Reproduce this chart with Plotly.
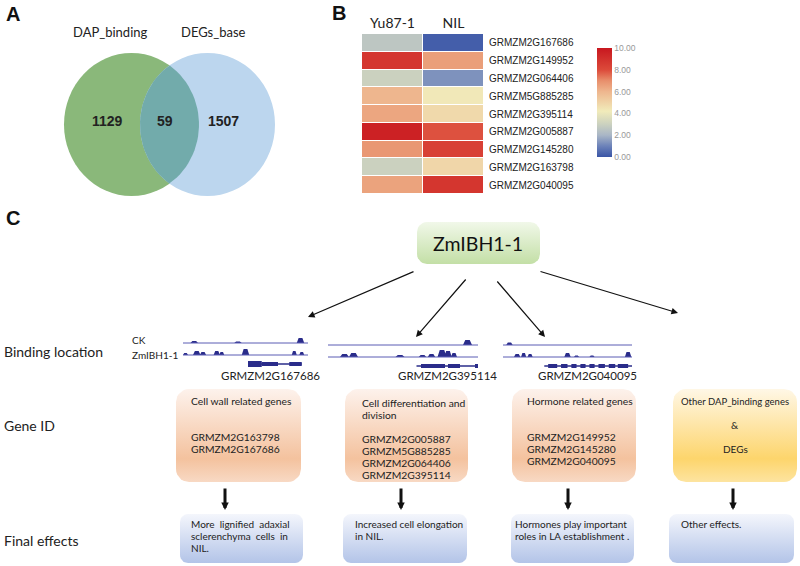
import numpy as np
import plotly.graph_objects as go

# Panel A: Venn counts
venn_sets = ["DAP_binding", "DEGs_base"]
venn_counts = [1129, 59, 1507]

# Panel B: heatmap
genes = ["GRMZM2G167686", "GRMZM2G149952", "GRMZM2G064406", "GRMZM5G885285",
         "GRMZM2G395114", "GRMZM2G005887", "GRMZM2G145280", "GRMZM2G163798",
         "GRMZM2G040095"]
lines_ = ["Yu87-1", "NIL"]
yu87 = [2.6, 8.8, 3.0, 6.0, 6.4, 9.6, 6.8, 3.0, 6.5]
nil = [0.2, 6.6, 1.3, 4.3, 4.8, 7.9, 8.4, 4.9, 8.8]
cb_ticks = [0, 2, 4, 6, 8, 10]

# Panel C: binding tracks (peak centre, width, height) on a 0-1 genomic window
track_genes = ["GRMZM2G167686", "GRMZM2G395114", "GRMZM2G040095"]
ck_peaks = [
    [(0.09, 0.06, 2), (0.44, 0.06, 1.5), (0.94, 0.06, 5)],
    [(0.93, 0.06, 5)],
    [(0.05, 0.05, 2.5)],
]
ibh_peaks = [
    [(0.02, 0.04, 2), (0.11, 0.06, 4), (0.16, 0.05, 3), (0.27, 0.05, 4), (0.31, 0.04, 3),
     (0.5, 0.06, 6), (0.89, 0.04, 4), (0.95, 0.04, 3)],
    [(0.11, 0.06, 3), (0.17, 0.06, 4), (0.48, 0.06, 2), (0.63, 0.05, 2), (0.69, 0.05, 3),
     (0.76, 0.06, 7), (0.8, 0.05, 6), (0.84, 0.04, 4)],
    [(0.11, 0.05, 3), (0.16, 0.04, 4), (0.21, 0.04, 3), (0.5, 0.05, 4), (0.57, 0.04, 1.5),
     (0.69, 0.04, 1.5), (0.97, 0.05, 5)],
]
# gene models: (start, end) of transcript, exons (start, end, half-height)
gene_span = [(0.52, 0.95), (0.59, 1.0), (0.32, 1.0)]
gene_exons = [
    [(0.52, 0.63, 3), (0.63, 0.76, 2), (0.85, 0.95, 2)],
    [(0.62, 0.7, 2), (0.7, 0.78, 2), (0.8, 0.88, 2), (0.98, 1.0, 2)],
    [(0.35, 0.42, 2), (0.45, 0.5, 2), (0.53, 0.57, 2), (0.6, 0.64, 2), (0.67, 0.71, 2),
     (0.74, 0.79, 2), (0.82, 0.87, 2), (0.89, 0.97, 2)],
]

gene_groups = [
    ["Cell wall related genes", "", "", "GRMZM2G163798", "GRMZM2G167686"],
    ["Cell differentiation and", "division", "", "GRMZM2G005887", "GRMZM5G885285",
     "GRMZM2G064406", "GRMZM2G395114"],
    ["Hormone related genes", "", "", "GRMZM2G149952", "GRMZM2G145280", "GRMZM2G040095"],
]
effects = [
    ["More  lignified  adaxial", "sclerenchyma  cells  in", "NIL."],
    ["Increased cell elongation", "in NIL."],
    ["Hormones play important", "roles in LA establishment ."],
    ["Other effects."],
]

W, H = 800, 566
FONT = "Lato"
NAVY = "#2a2c8a"


def py(p):
    return 1 - p / H


def rrect(x0, y0, x1, y1, r):
    xs, ys = [], []
    for cx, cy, a0 in [(x1 - r, y0 + r, -90), (x1 - r, y1 - r, 0), (x0 + r, y1 - r, 90), (x0 + r, y0 + r, 180)]:
        t = np.radians(np.linspace(a0, a0 + 90, 8))
        xs += list(cx + r * np.cos(t))
        ys += list(cy + r * np.sin(t))
    return xs + [xs[0]], ys + [ys[0]]


fig = go.Figure()


def gbox(x0, y0, x1, y1, cs, r=12):
    xs, ys = rrect(x0, y0, x1, y1, r)
    fig.add_trace(go.Scatter(x=xs, y=ys, mode="lines", fill="toself", line=dict(width=0),
                             fillgradient=dict(type="vertical", colorscale=cs, start=y0, stop=y1),
                             hoverinfo="skip", showlegend=False, xaxis="x", yaxis="y"))


ann = []


def txt(x, y, s, size=9, anchor="left", bold=False, color="#222", family=FONT):
    ann.append(dict(x=x, y=y, xref="x", yref="y", text=f"<b>{s}</b>" if bold else s,
                    showarrow=False, xanchor=anchor, yanchor="middle", borderpad=0,
                    font=dict(size=size, color=color, family=family)))


# ---- Panel A: Venn
shapes = []
shapes.append(dict(type="circle", xref="x", yref="y", x0=64, x1=199, y0=53, y1=196,
                   fillcolor="#8ab87a", line=dict(width=0), layer="below"))
shapes.append(dict(type="circle", xref="x", yref="y", x0=140, x1=275, y0=53, y1=196,
                   fillcolor="#bcd6ee", line=dict(width=0), layer="below"))
ex, ey = 67.5, 71.5
lim = np.arcsin(np.sqrt(1 - (38.25 / ex) ** 2))
ta = np.linspace(-lim, lim, 30)
lx = list(131.5 + ex * np.cos(ta)) + list(207.5 - ex * np.cos(ta[::-1]))
ly = list(124.5 + ey * np.sin(ta)) + list(124.5 + ey * np.sin(ta[::-1]))
fig.add_trace(go.Scatter(x=lx + [lx[0]], y=ly + [ly[0]], mode="lines", fill="toself",
                         fillcolor="#72abab", line=dict(width=0), hoverinfo="skip",
                         showlegend=False, xaxis="x", yaxis="y"))
txt(5, 14, "A", 20, bold=True, color="#111", family="Liberation Sans")
txt(110, 32, venn_sets[0], 13, "center")
txt(213, 32, venn_sets[1], 13, "center")
for xx, c in zip([107, 165, 223], venn_counts):
    txt(xx, 121, str(c), 14, "center", bold=True, family="Liberation Sans")

# ---- Panel B: heatmap
txt(331, 13, "B", 20, bold=True, color="#111", family="Liberation Sans")
cs = [[0, "#3a55a6"], [0.1, "#6c82b9"], [0.2, "#a9b6c6"], [0.3, "#cbd1bf"],
      [0.42, "#f1ebba"], [0.6, "#eeb68e"], [0.7, "#e88f6c"], [0.8, "#dc4a3a"], [1, "#c8171f"]]
fig.add_trace(go.Heatmap(z=np.array([yu87, nil]).T, x=lines_, y=genes, zmin=0, zmax=10,
                         colorscale=cs, xgap=1, ygap=1, xaxis="x2", yaxis="y2",
                         colorbar=dict(x=597 / W, xanchor="left", y=py(48), yanchor="top",
                                       len=109 / H, lenmode="fraction", thickness=15,
                                       xpad=0, ypad=0, outlinewidth=0, tickvals=cb_ticks,
                                       ticktext=[f"{v:.2f}" for v in cb_ticks], ticks="",
                                       tickfont=dict(size=8.5, color="#999", family="Liberation Sans"))))

# ---- Panel C
txt(5, 218, "C", 20, bold=True, color="#111", family="Liberation Sans")
gbox(417, 222, 540, 264, [[0, "#f1f8e9"], [1, "#c3dfa6"]], 10)
txt(478, 243, "ZmIBH1-1", 19.5, "center", color="#111")

for (hx, hy), (tx, ty) in [((308, 317), (415, 271)), ((416, 337), (467, 278)),
                           ((545, 337), (496, 280)), ((678, 313), (539, 271))]:
    ann.append(dict(x=hx, y=hy, ax=tx, ay=ty, xref="x", yref="y", axref="x", ayref="y",
                    text="", showarrow=True, arrowhead=2, arrowsize=1.1, arrowwidth=1.2,
                    arrowcolor="#111"))

txt(3, 351, "Binding location", 14)
txt(3, 425, "Gene ID", 14)
txt(3, 540, "Final effects", 14)
txt(131, 340, "CK", 10)
txt(131, 355, "ZmIBH1-1", 10)

track_x = [(183, 308), (328, 478), (503, 632)]
track_top = [335, 337, 337]
label_x = [270, 447, 587]
CK_B, IBH_B, GENE_B = 27, 15, 6


def peak_poly(peaks, base):
    xs, ys = [0], [base]
    for c, w, h in sorted(peaks):
        xs += [c - w / 2, c - w / 4, c + w / 4, c + w / 2]
        ys += [base, base + h, base + h, base]
    xs += [1, 1, 0]
    ys += [base, base, base]
    return xs, ys


layout_axes = {}
for i in range(3):
    n = i + 3
    xa, ya = f"x{n}", f"y{n}"
    x0, x1 = track_x[i]
    top = track_top[i]
    layout_axes[f"xaxis{n}"] = dict(domain=[x0 / W, x1 / W], range=[0, 1], visible=False,
                                    fixedrange=True)
    layout_axes[f"yaxis{n}"] = dict(domain=[py(top + 35), py(top)], range=[0, 35],
                                    visible=False, fixedrange=True)
    for peaks, base in [(ck_peaks[i], CK_B), (ibh_peaks[i], IBH_B)]:
        xs, ys = peak_poly(peaks, base)
        fig.add_trace(go.Scatter(x=xs, y=ys, mode="lines", fill="toself", fillcolor=NAVY,
                                 line=dict(width=0), hoverinfo="skip", showlegend=False,
                                 xaxis=xa, yaxis=ya))
        shapes.append(dict(type="line", xref=xa, yref=ya, x0=0, x1=1, y0=base, y1=base,
                           line=dict(color="#5a5db4", width=1)))
    s0, s1 = gene_span[i]
    shapes.append(dict(type="line", xref=xa, yref=ya, x0=s0, x1=s1, y0=GENE_B, y1=GENE_B,
                       line=dict(color=NAVY, width=1.5)))
    for e0, e1, hh in gene_exons[i]:
        shapes.append(dict(type="rect", xref=xa, yref=ya, x0=e0, x1=e1, y0=GENE_B - hh,
                           y1=GENE_B + hh, fillcolor=NAVY, line=dict(width=0)))
    txt(label_x[i], 375, track_genes[i], 11.5, "center")

orange = [[0, "#fdf2ec"], [0.75, "#f4c29e"], [1, "#f8d9c4"]]
yellow = [[0, "#fff7e6"], [0.75, "#fdd56c"], [1, "#fde4a0"]]
blue = [[0, "#f4f6fc"], [1, "#b3c4e8"]]
gene_box_x = [(176, 301), (345, 468), (512, 636), (673, 797)]
gene_text_x = [190, 361, 526]
eff_box_x = [(180, 303), (343, 467), (511, 634), (669, 794)]
eff_text_x = [190, 354, 514, 680]
arrow_x = [225, 401, 568, 733]
text_y = [401, 413, 425, 437, 449, 461, 473]

for i, (x0, x1) in enumerate(gene_box_x):
    gbox(x0, 389, x1, 482, yellow if i == 3 else orange, 13)
for i, grp in enumerate(gene_groups):
    ys = text_y if i != 1 else [403, 415, 427, 439, 451, 463, 475]
    for j, line in enumerate(grp):
        if line:
            txt(gene_text_x[i], ys[j], line, 10.3)
txt(735, 401, "Other DAP_binding genes", 9.5, "center")
txt(735, 425, "&", 10, "center")
txt(735, 449, "DEGs", 10, "center")

for i, (x0, x1) in enumerate(eff_box_x):
    gbox(x0, 514, x1, 563, blue, 8)
    for j, line in enumerate(effects[i]):
        txt(eff_text_x[i], 524 + 12 * j, line, 10)
    ann.append(dict(x=arrow_x[i], y=510, ax=arrow_x[i], ay=487, xref="x", yref="y",
                    axref="x", ayref="y", text="", showarrow=True, arrowhead=2,
                    arrowsize=0.5, arrowwidth=3, arrowcolor="#111"))

fig.update_layout(
    width=W, height=H, margin=dict(l=0, r=0, t=0, b=0),
    paper_bgcolor="white", plot_bgcolor="rgba(0,0,0,0)",
    xaxis=dict(domain=[0, 1], range=[0, W], visible=False, fixedrange=True),
    yaxis=dict(domain=[0, 1], range=[H, 0], visible=False, fixedrange=True),
    xaxis2=dict(domain=[362 / W, 484 / W], side="top", anchor="y2", ticks="",
                tickfont=dict(size=14, family=FONT, color="#222"), showgrid=False,
                zeroline=False, showline=False, ticklabelstandoff=2),
    yaxis2=dict(domain=[py(194), py(34)], side="right", anchor="x2", autorange="reversed",
                ticks="", tickfont=dict(size=10, family="Liberation Sans", color="#222"),
                showgrid=False, zeroline=False, showline=False, ticklabelstandoff=4),
    shapes=shapes, annotations=ann, showlegend=False,
    **layout_axes,
)

fig.write_html("out.html", config={"displayModeBar": False},
               post_script="document.body.style.margin='0px';")
